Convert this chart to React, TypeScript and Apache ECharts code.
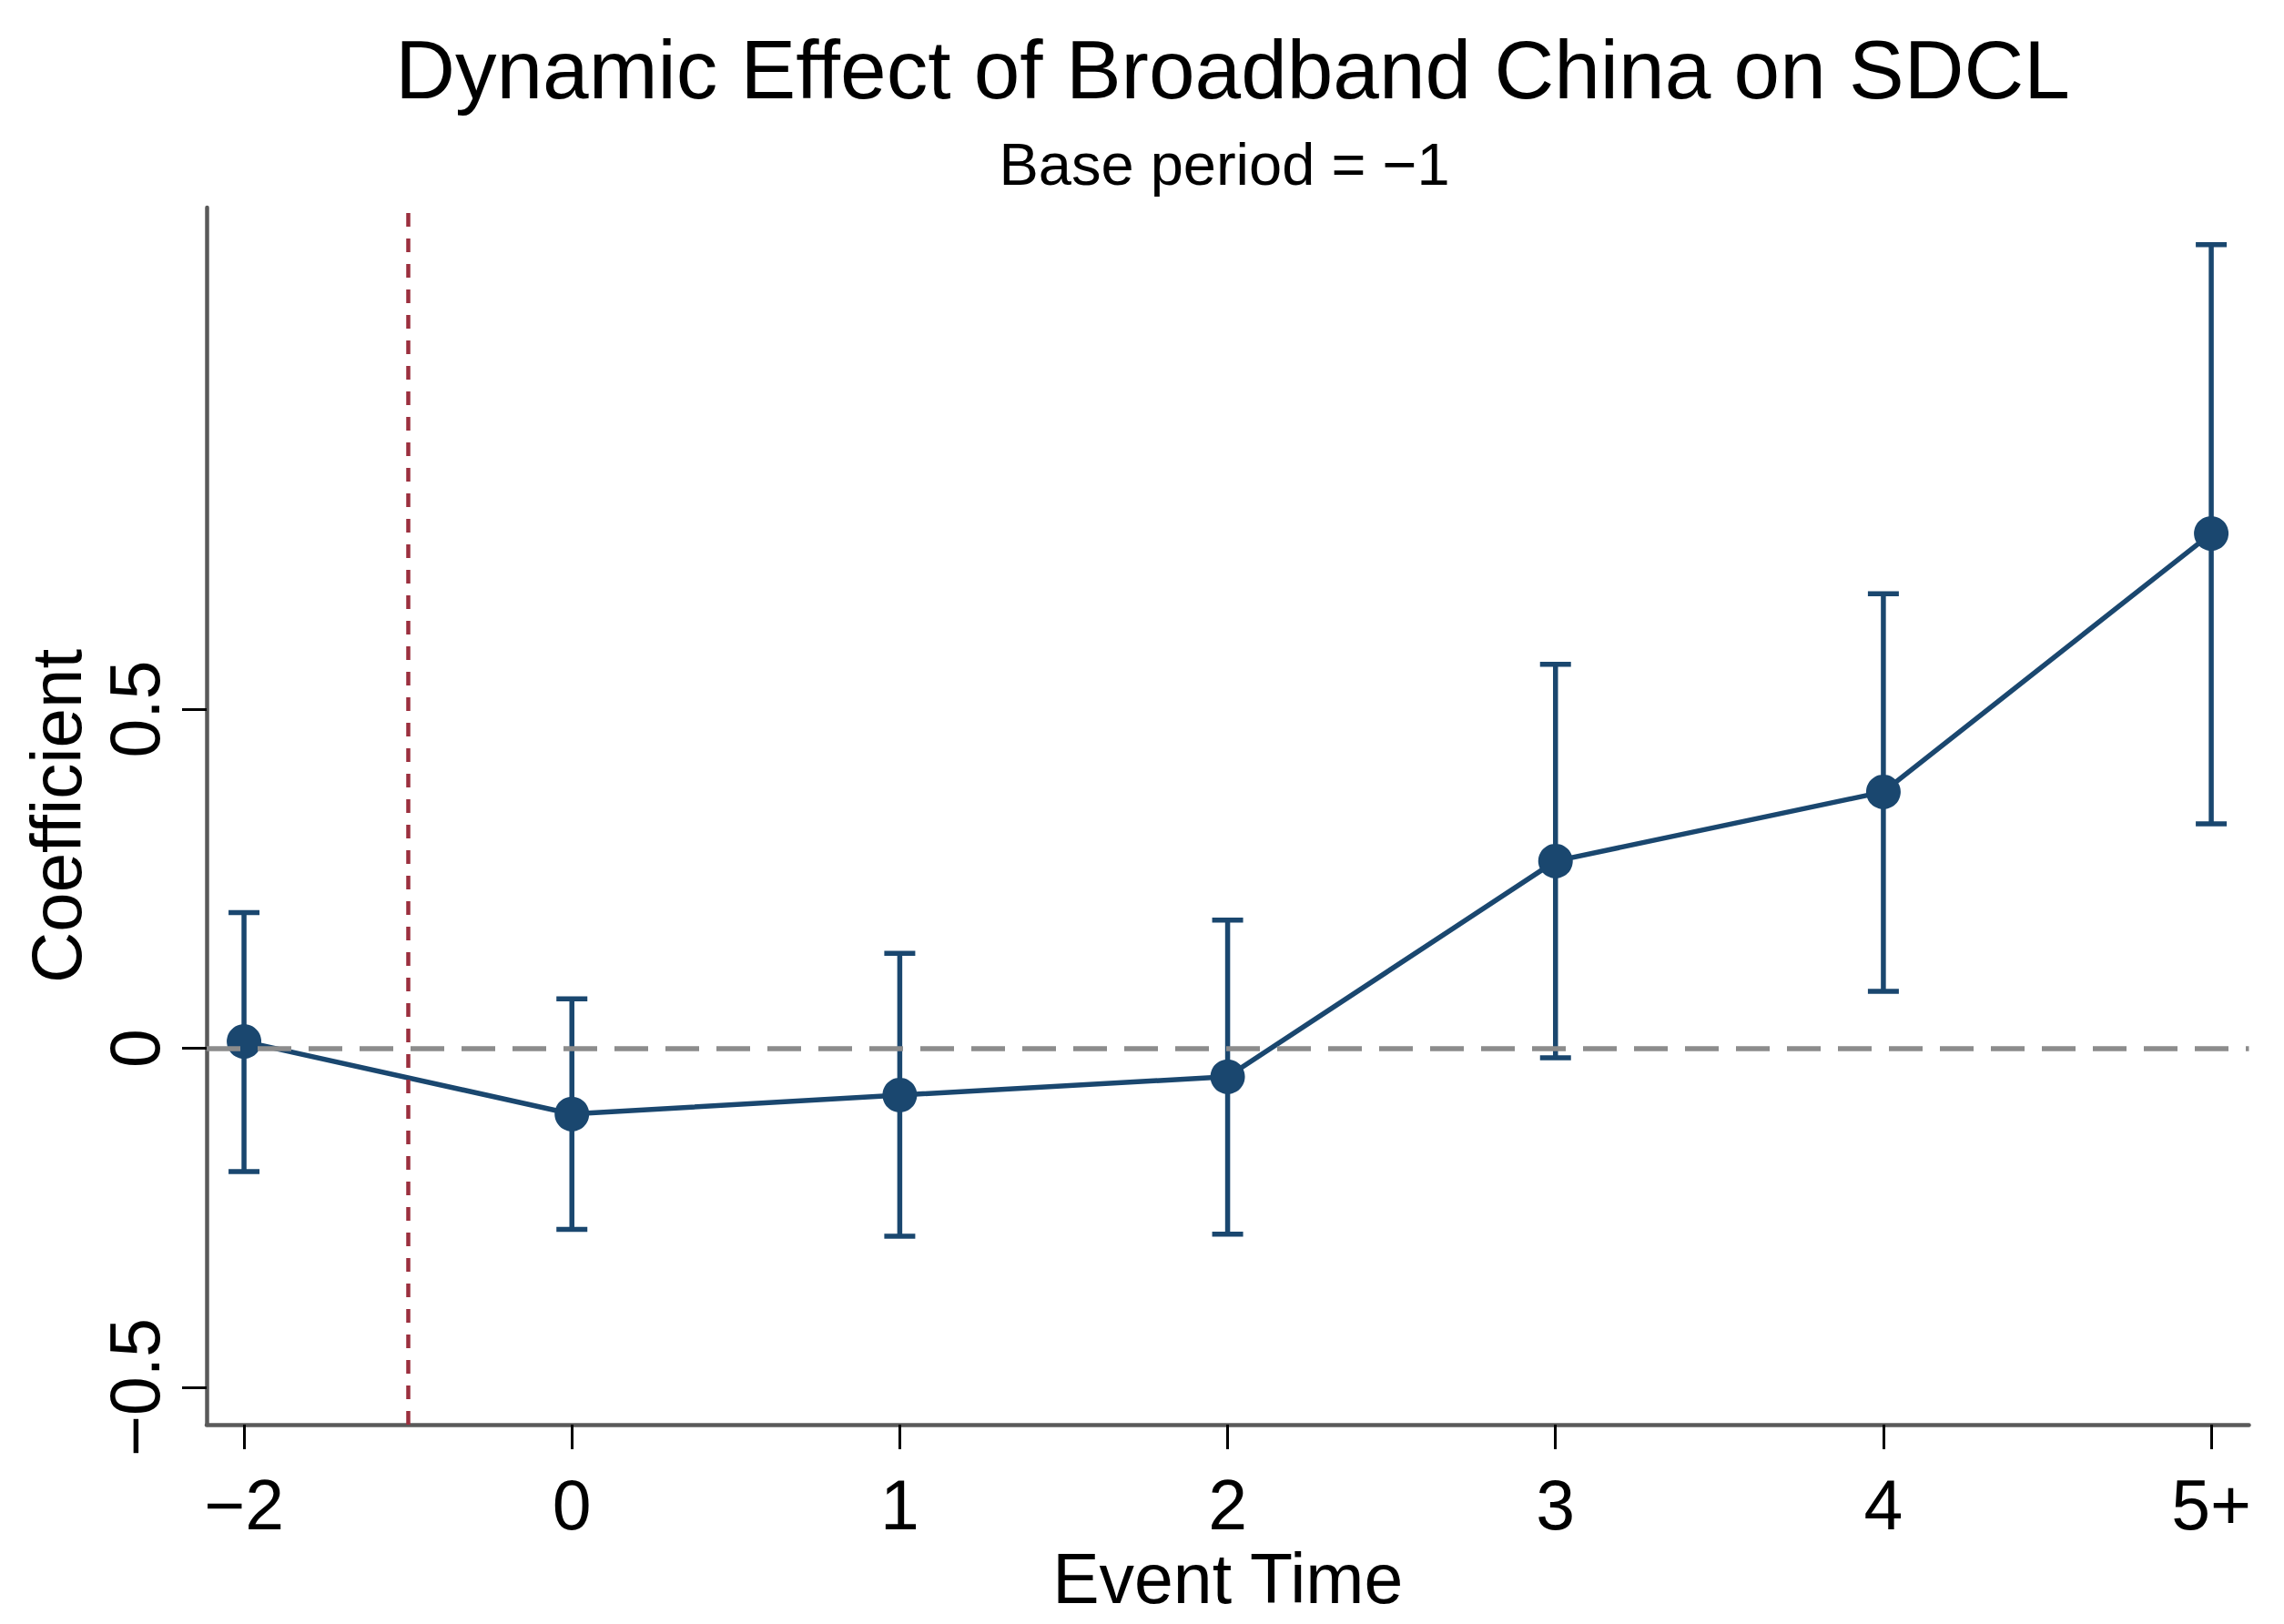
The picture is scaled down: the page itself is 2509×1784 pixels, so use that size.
import React, { useEffect, useRef } from "react";
import * as echarts from "echarts";

// ---- data ----
const EVENT_LABELS = ["\u22122", "0", "1", "2", "3", "4", "5+"];
const EVENT_POS = [0, 1, 2, 3, 4, 5, 6];
const COEF = [0.010, -0.097, -0.069, -0.042, 0.276, 0.378, 0.759];
const CI_UPPER = [0.200, 0.073, 0.140, 0.189, 0.566, 0.670, 1.185];
const CI_LOWER = [-0.182, -0.267, -0.277, -0.274, -0.014, 0.084, 0.331];
const Y_TICKS = [-0.5, 0, 0.5];
const BASE_LINE_POS = 0.5; // between -2 and 0 (base period -1)

const X_MIN = -0.114;
const X_MAX = 6.115;
const Y_MIN = -0.555;
const Y_MAX = 1.2396;

const TITLE = "Dynamic Effect of Broadband China on SDCL";
const SUBTITLE = "Base period = \u22121";

const FONT = "'Liberation Sans', Arial, Helvetica, sans-serif";
const NAVY = "#1a476f";

export default function App() {
  const ref = useRef<HTMLDivElement>(null);

  useEffect(() => {
    if (!ref.current) return;
    const chart = echarts.init(ref.current, undefined, { renderer: "svg" });

    const pointData = EVENT_POS.map((x, i) => [x, COEF[i]]);
    const ciData = EVENT_POS.map((x, i) => [x, CI_LOWER[i], CI_UPPER[i]]);

    const fmtY = (v: number) => (v < 0 ? "\u2212" + String(-v) : String(v));

    chart.setOption({
      animation: false,
      backgroundColor: "#ffffff",
      textStyle: { fontFamily: FONT },
      grid: { left: 227, right: 38.5, top: 228, bottom: 219, containLabel: false },
      graphic: [
        {
          type: "text",
          x: 1354,
          y: 76,
          style: {
            text: TITLE,
            fontSize: 91,
            fontFamily: FONT,
            fill: "#000",
            align: "center",
            verticalAlign: "middle",
          },
        },
        {
          type: "text",
          x: 1345,
          y: 180,
          style: {
            text: SUBTITLE,
            fontSize: 65,
            fontFamily: FONT,
            fill: "#000",
            align: "center",
            verticalAlign: "middle",
          },
        },
      ],
      xAxis: {
        type: "value",
        min: X_MIN,
        max: X_MAX,
        name: "Event Time",
        nameLocation: "middle",
        nameGap: 125,
        nameTextStyle: { fontSize: 77, color: "#000", fontFamily: FONT },
        axisLine: { show: true, onZero: false, lineStyle: { color: "#5a5a5a", width: 4.5 } },
        axisTick: {
          show: true,
          inside: false,
          length: 27,
          customValues: EVENT_POS,
          lineStyle: { color: "#000", width: 3 },
        },
        axisLabel: {
          show: true,
          customValues: EVENT_POS,
          margin: 49,
          fontSize: 77,
          color: "#000",
          fontFamily: FONT,
          formatter: (v: number) => EVENT_LABELS[Math.round(v)] ?? "",
        },
        splitLine: { show: false },
      },
      yAxis: {
        type: "value",
        min: Y_MIN,
        max: Y_MAX,
        name: "Coefficient",
        nameLocation: "middle",
        nameRotate: 90,
        nameGap: 122,
        nameTextStyle: { fontSize: 78, color: "#000", fontFamily: FONT },
        axisLine: { show: true, onZero: false, lineStyle: { color: "#5a5a5a", width: 4.5 } },
        axisTick: {
          show: true,
          inside: false,
          length: 27,
          customValues: Y_TICKS,
          lineStyle: { color: "#000", width: 3 },
        },
        axisLabel: {
          show: true,
          customValues: Y_TICKS,
          rotate: 90,
          margin: 41,
          fontSize: 77,
          color: "#000",
          fontFamily: FONT,
          formatter: fmtY,
        },
        splitLine: { show: false },
      },
      series: [
        {
          type: "custom",
          name: "CI",
          z: 2,
          data: ciData,
          encode: { x: 0, y: [1, 2] },
          renderItem: (params: any, api: any) => {
            const x = api.value(0);
            const lo = api.value(1);
            const hi = api.value(2);
            const pHi = api.coord([x, hi]);
            const pLo = api.coord([x, lo]);
            const hw = 17;
            const style = { stroke: NAVY, lineWidth: 5.5, fill: "none" };
            return {
              type: "group",
              children: [
                { type: "line", shape: { x1: pHi[0], y1: pHi[1], x2: pLo[0], y2: pLo[1] }, style },
                { type: "line", shape: { x1: pHi[0] - hw, y1: pHi[1], x2: pHi[0] + hw, y2: pHi[1] }, style },
                { type: "line", shape: { x1: pLo[0] - hw, y1: pLo[1], x2: pLo[0] + hw, y2: pLo[1] }, style },
              ],
            };
          },
          markLine: {
            silent: true,
            symbol: "none",
            label: { show: false },
            animation: false,
            data: [
              { yAxis: 0, lineStyle: { color: "#8c8c8c", width: 5.5, type: [37, 19] } },
              { xAxis: BASE_LINE_POS, lineStyle: { color: "#9b2f3e", width: 4.5, type: [15, 13] } },
            ],
          },
        },
        {
          type: "line",
          name: "Coefficient",
          z: 3,
          data: pointData,
          symbol: "circle",
          symbolSize: 38,
          itemStyle: { color: NAVY },
          lineStyle: { color: NAVY, width: 5.5 },
        },
      ],
    });

    return () => {
      chart.dispose();
    };
  }, []);

  return (
    <div
      ref={ref}
      style={{ position: "fixed", left: 0, top: 0, width: 2509, height: 1784, background: "#fff" }}
    />
  );
}
